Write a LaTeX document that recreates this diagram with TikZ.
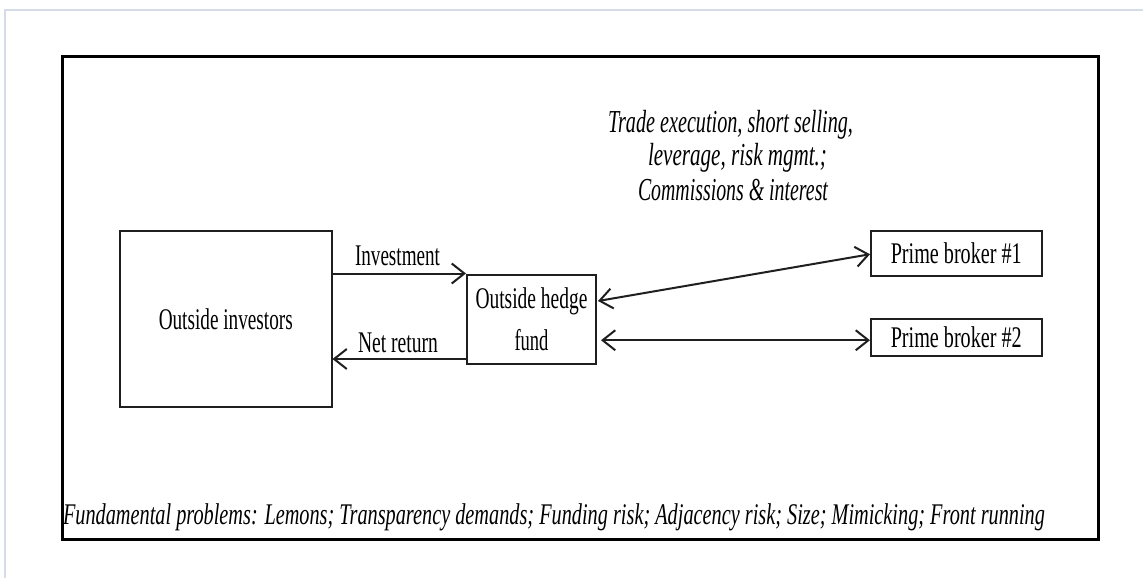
\documentclass[tikz,border=0pt]{standalone}
\usepackage{fontspec}
\setmainfont{Liberation Serif}
\usepackage{graphicx}
\usetikzlibrary{arrows.meta,calc}
% one drawing unit = one pixel of the 1143 x 578 canvas
\newdimen\pxu \pxu=0.75pt
% set a text at a given width (in pixel units), keeping its height
\newcommand\fitw[2]{\resizebox{#1\pxu}{\height}{#2}}
\tikzset{
  box/.style={draw=black!88, line width=1.5pt, inner sep=0pt, anchor=north west,
    font=\fontsize{22.5pt}{31.5pt}\selectfont, align=center},
  tip/.style={Straight Barb[length=9.5pt,width=15pt]},
  arr/.style={draw=black!88, line width=1.5pt, -{Straight Barb[length=9.5pt,width=15pt]}},
  dbl/.style={draw=black!88, line width=1.5pt,
    {Straight Barb[length=9.5pt,width=15pt]}-{Straight Barb[length=9.5pt,width=15pt]}},
  txt/.style={inner sep=0pt, anchor=base, font=\fontsize{22.5pt}{27pt}\selectfont},
  ittxt/.style={inner sep=0pt, anchor=base, font=\fontsize{24pt}{30pt}\selectfont\itshape},
}
\begin{document}
\begin{tikzpicture}[x=0.75pt, y=-0.75pt]
  \useasboundingbox[fill=white] (0,0) rectangle (1143,578);
  % light page edge
  \draw[line width=1.5pt, color={rgb,255:red,214;green,219;blue,232}]
    (5,578) -- (5,10) -- (1143,10);

  % outer frame
  \node[draw=black, line width=2.6pt, inner sep=0pt, anchor=north west,
        minimum width=776.625pt, minimum height=362.625pt] (frame) at (61,54.5) {};

  % boxes
  \node[box, minimum width=158.625pt, minimum height=132.375pt] (inv) at (119,229.5)
    {\fitw{134}{Outside investors}};
  \node[box, minimum width=96.75pt, minimum height=67.125pt] (hedge) at (466,273.5)
    {\fitw{112}{Outside hedge}\\\fitw{34}{fund}};
  \node[box, minimum width=127.875pt, minimum height=33.375pt] (pb1) at (870,230)
    {\fitw{131}{Prime broker \#1}};
  \node[box, minimum width=127.875pt, minimum height=27.15pt] (pb2) at (870,318.3)
    {\fitw{131}{Prime broker \#2}};

  % flows between investors and fund
  \draw[arr] (inv.east |- hedge.north west) -- (hedge.north west);
  \coordinate (nr) at ($(hedge.south west)+(0,-6)$);
  \draw[arr] (nr) -- (nr -| inv.east);
  \node[txt] (linv) at (397.5,265) {\fitw{85}{Investment}};
  \node[txt] (lnet) at (398,352) {\fitw{80}{Net return}};

  % fund and prime brokers
  \draw[dbl] ($(hedge.east)+(1,-18.25)$) -- ($(pb1.west)+(0,1)$);
  \coordinate (f2) at ($(hedge.east)+(4,21)$);
  \draw[dbl] (f2) -- (f2 -| pb2.west);

  % services label
  \node[ittxt] (s1) at (730.5,132) {\fitw{245}{Trade execution, short selling,}};
  \node[ittxt] (s2) at (737.5,165) {\fitw{179}{leverage, risk mgmt.;}};
  \node[ittxt] (s3) at (733,200) {\fitw{190}{Commissions \& interest}};

  % bottom line
  \node[ittxt, font=\fontsize{22.5pt}{27pt}\selectfont\itshape] (probs) at (554,524)
    {\fitw{982}{Fundamental problems: Lemons; Transparency demands; Funding risk; Adjacency risk; Size; Mimicking; Front running}};
\end{tikzpicture}
\end{document}
